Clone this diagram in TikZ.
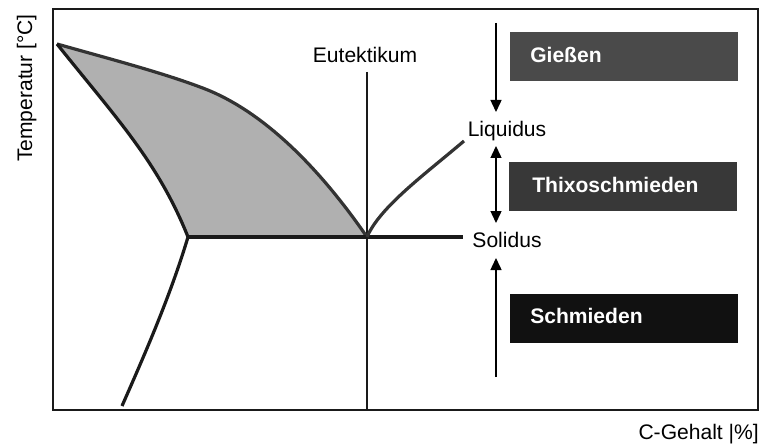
\documentclass[tikz,border=0pt]{standalone}
\usepackage{fontspec}
\setmainfont{Liberation Sans}
\usetikzlibrary{arrows.meta}
\definecolor{curvedark}{HTML}{333333}
\definecolor{curveblack}{HTML}{1A1A1A}
\definecolor{fillgray}{HTML}{B0B0B0}
\definecolor{boxA}{HTML}{4A4A4A}
\definecolor{boxB}{HTML}{383838}
\definecolor{boxC}{HTML}{111111}
\tikzset{
  lbl/.style={font=\fontsize{15.8}{18}\selectfont, inner sep=0pt, anchor=base},
  procbox/.style={draw=none, minimum width=171pt, minimum height=36.75pt, inner sep=0pt},
  boxtext/.style={font=\bfseries\fontsize{15.8}{18}\selectfont, text=white, inner sep=0pt, anchor=base west},
  arr/.style={line width=1.1pt, -{Triangle[width=8.25pt,length=9pt]}},
  dblarr/.style={line width=1.1pt, {Triangle[width=8.25pt,length=9pt]}-{Triangle[width=8.25pt,length=9pt]}},
  phaseline/.style={line width=2.4pt, line join=round}
}
\begin{document}
\begin{tikzpicture}[x=0.75pt,y=-0.75pt]
\useasboundingbox (0,0) rectangle (762,445);
% key points
\coordinate (top) at (57,44);
\coordinate (mid) at (200,87);
\coordinate (eut) at (367,237);
\coordinate (sol3) at (188,237);
\coordinate (solEnd) at (463,237);
\coordinate (liqEnd) at (464,141);
\coordinate (solvEnd) at (122,406);
% frame
\draw[line width=1.5pt, curveblack] (53,9) rectangle (758,410);
% gray two-phase region
\fill[fillgray] (top) .. controls (110,59) and (160,72) .. (mid)
  .. controls (260,108.6) and (317,164.5) .. (eut)
  -- (sol3)
  .. controls (158,162) and (117,119) .. (top) -- cycle;
% eutectic vertical line
\coordinate (eutTop) at (367,72);
\coordinate (eutBot) at (367,410);
\draw[line width=1.5pt, curveblack] (eutTop) -- (eutBot);
% upper (liquidus) curve left
\draw[phaseline, curvedark] (top) .. controls (110,59) and (160,72) .. (mid)
  .. controls (260,108.6) and (317,164.5) .. (eut);
% lower (solidus) curve left
\draw[phaseline, curveblack] (top) .. controls (117,119) and (158,162) .. (sol3);
% horizontal eutectic line
\draw[phaseline, curveblack] (sol3) -- (solEnd);
% right liquidus
\draw[phaseline, curvedark] (eut) .. controls (380,207) and (424,175) .. (liqEnd);
% lower-left solvus
\draw[phaseline, curveblack] (sol3) .. controls (170,297) and (144,356) .. (solvEnd);
% labels
\node[lbl] (eutlbl) at (365,63) {Eutektikum};
\node[lbl] (liq) at (507,137) {Liquidus};
\node[lbl] (sol) at (507,247) {Solidus};
\node[lbl, rotate=90] (temp) at (32,88) {Temperatur [°C]};
\node[lbl, anchor=base east] (cgeh) at (759,439) {C-Gehalt |\%]};
% process boxes
\node[procbox, fill=boxA] (giessen) at (624,56.5) {};
\node[boxtext] at (530,63) {Gießen};
\node[procbox, fill=boxB] (thixo) at (623,186.5) {};
\node[boxtext] at (532,192) {Thixoschmieden};
\node[procbox, fill=boxC] (schmied) at (624,318.5) {};
\node[boxtext] at (530,323) {Schmieden};
% arrows
\coordinate (a1s) at (496,23);
\coordinate (a1e) at (496,112);
\coordinate (a2s) at (496,146);
\coordinate (a2e) at (496,223);
\coordinate (a3s) at (496,377);
\coordinate (a3e) at (496,258);
\draw[arr] (a1s) -- (a1e);
\draw[dblarr] (a2s) -- (a2e);
\draw[arr] (a3s) -- (a3e);
\end{tikzpicture}
\end{document}
